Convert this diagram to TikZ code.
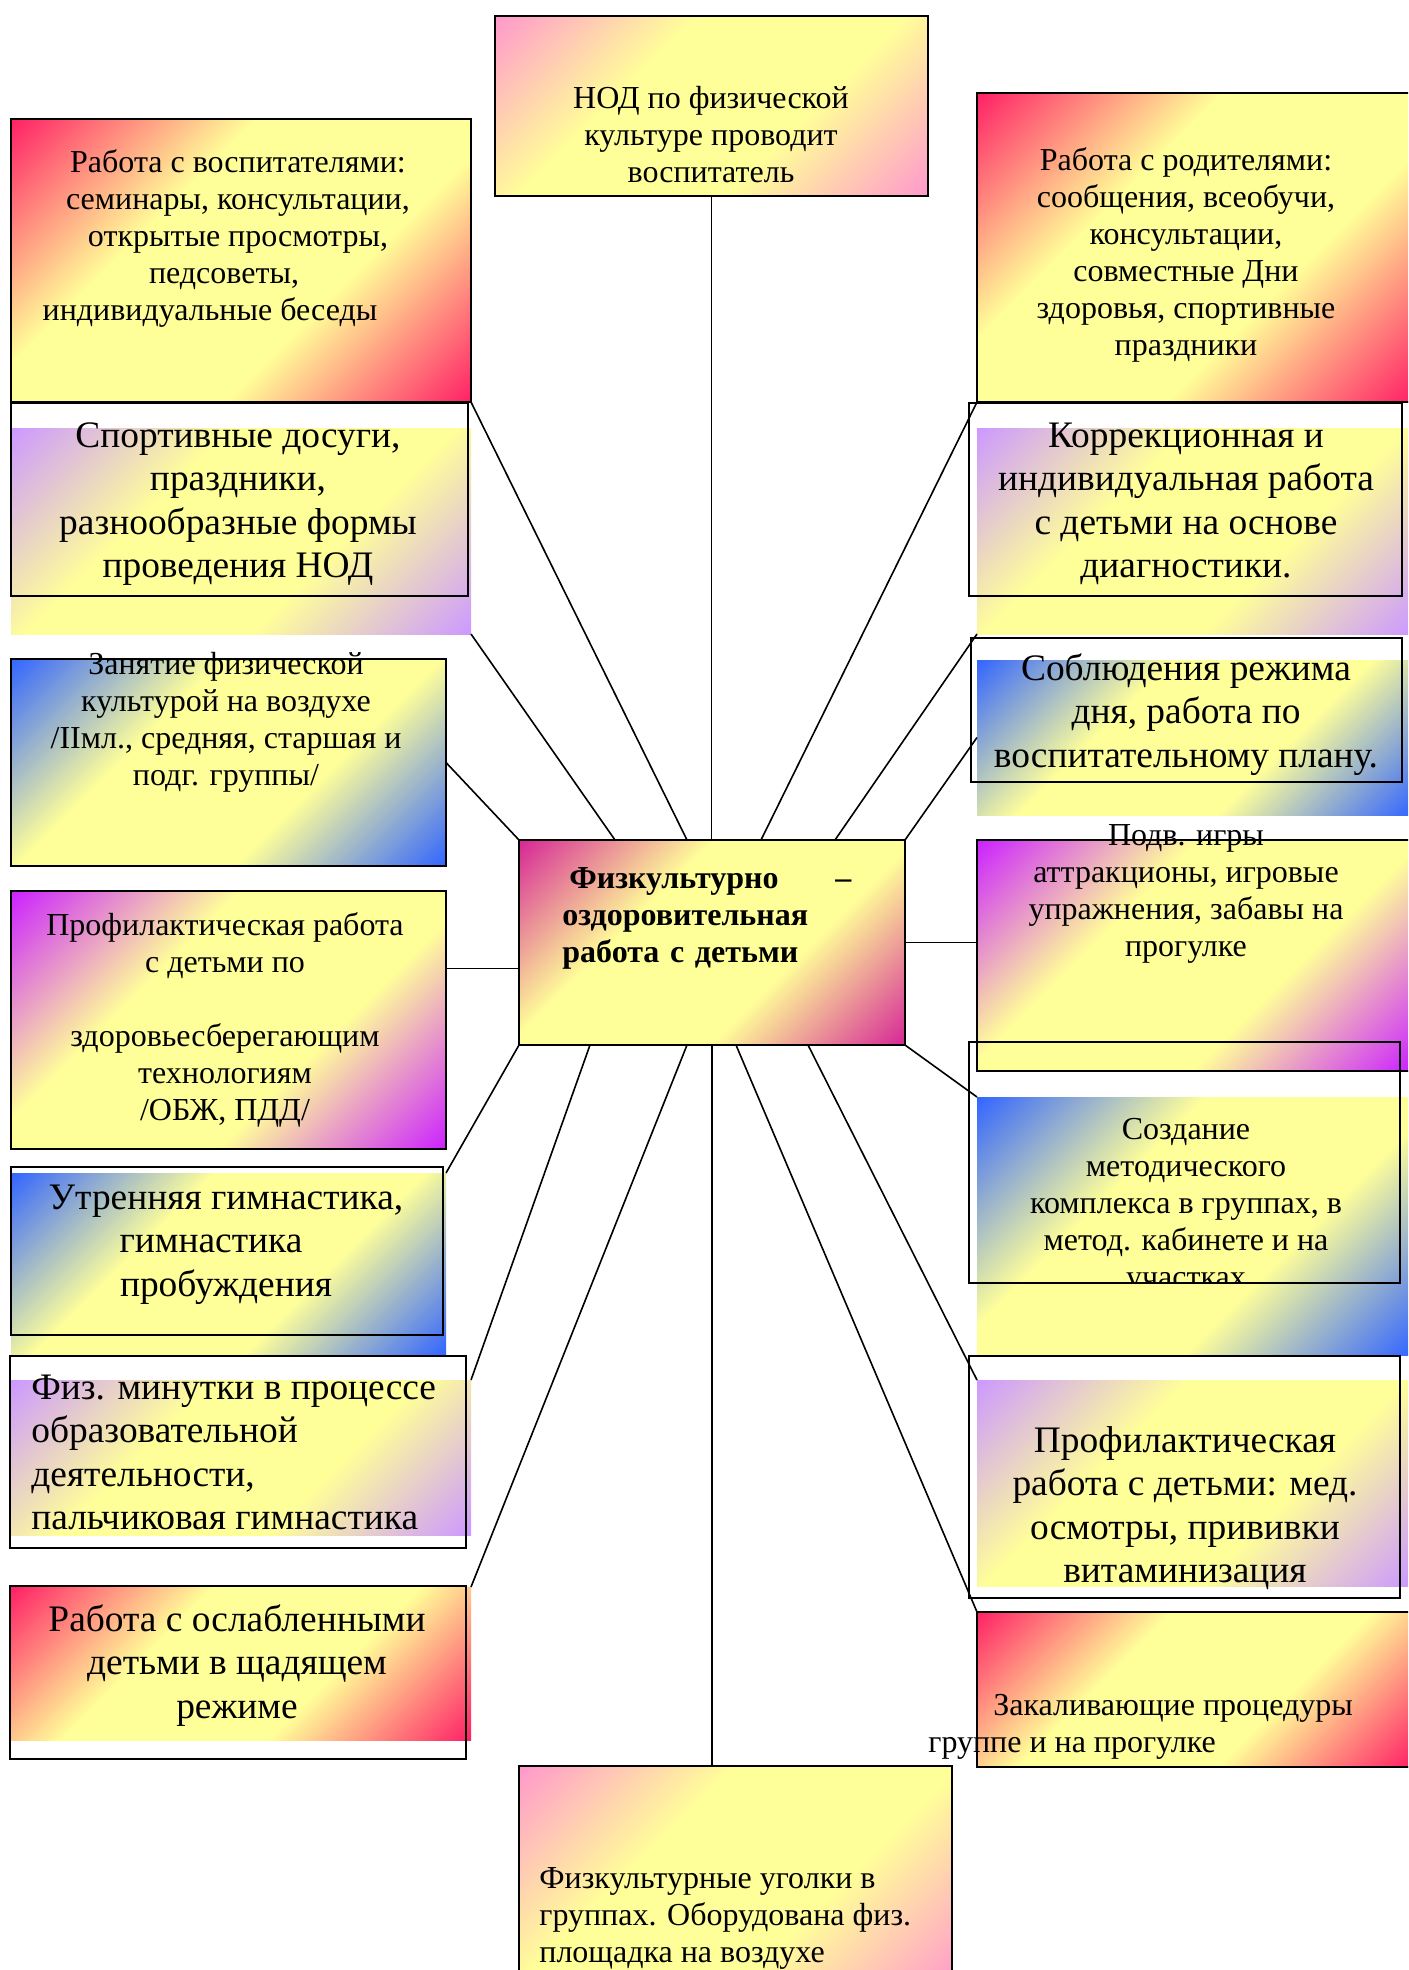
\documentclass[tikz,border=0pt]{standalone}
\usepackage{fontspec}
\setmainfont{Liberation Serif}
\usetikzlibrary{fit,calc}
\definecolor{cY}{HTML}{FFFF99}
\definecolor{cR}{HTML}{FF2266}
\definecolor{cP}{HTML}{FF99CC}
\definecolor{cL}{HTML}{CC99FF}
\definecolor{cB}{HTML}{3366FF}
\definecolor{cM}{HTML}{D62896}
\definecolor{cV}{HTML}{CC22FF}
\pgfdeclarehorizontalshading{shR}{100bp}{color(0bp)=(cR); color(14.64bp)=(cR); color(38bp)=(cY); color(62bp)=(cY); color(85.36bp)=(cR); color(100bp)=(cR)}
\pgfdeclarehorizontalshading{shP}{100bp}{color(0bp)=(cP); color(14.64bp)=(cP); color(38bp)=(cY); color(62bp)=(cY); color(85.36bp)=(cP); color(100bp)=(cP)}
\pgfdeclarehorizontalshading{shL}{100bp}{color(0bp)=(cL); color(14.64bp)=(cL); color(38bp)=(cY); color(62bp)=(cY); color(85.36bp)=(cL); color(100bp)=(cL)}
\pgfdeclarehorizontalshading{shB}{100bp}{color(0bp)=(cB); color(14.64bp)=(cB); color(38bp)=(cY); color(62bp)=(cY); color(85.36bp)=(cB); color(100bp)=(cB)}
\pgfdeclarehorizontalshading{shM}{100bp}{color(0bp)=(cM); color(14.64bp)=(cM); color(38bp)=(cY); color(62bp)=(cY); color(85.36bp)=(cM); color(100bp)=(cM)}
\pgfdeclarehorizontalshading{shV}{100bp}{color(0bp)=(cV); color(14.64bp)=(cV); color(38bp)=(cY); color(62bp)=(cY); color(85.36bp)=(cV); color(100bp)=(cV)}
\newcommand\tstrut{\rule{0pt}{1em}}
\tikzset{
  bx/.style={inner sep=0pt, outer sep=0pt, shade, shading=#1, shading angle=135},
  bxd/.style={bx=#1, draw=black, line width=1pt},
  fr/.style={draw=black, line width=1pt, inner sep=0pt, outer sep=0pt},
  ln/.style={draw=black, line width=0.8pt},
  sm/.style={font=\fontsize{16}{18.5}\selectfont, inner sep=0pt, align=center, anchor=north},
  lg/.style={font=\fontsize{18.7}{21.65}\selectfont, inner sep=0pt, align=center, anchor=north},
}
\begin{document}
\begin{tikzpicture}[x=0.5pt,y=-0.5pt]
\path[use as bounding box] (0,0) rectangle (1408,1970);
\clip (0,0) rectangle (1408,1970);

% boxes
\node[bxd=shP, fit={(495,16)(928,196)}] (nod) {};
\node[bxd=shR, fit={(11,119)(471,402)}] (vosp) {};
\node[bxd=shR, fit={(977,93)(1412,402)}] (rod) {};
\node[bx=shL, fit={(11,428)(471,634)}] (sport) {};
\node[fr, fit={(11,403)(468,596)}] (sportF) {};
\node[bx=shL, fit={(977,428)(1412,634)}] (korr) {};
\node[fr, fit={(969,403)(1402,596)}] (korrF) {};
\node[bxd=shB, fit={(11,659)(446,866)}] (zan) {};
\node[bx=shB, fit={(977,660)(1412,815)}] (sobl) {};
\node[fr, fit={(971,638)(1402,782)}] (soblF) {};
\node[bxd=shM, fit={(519,840)(905,1045)}] (hub) {};
\node[bxd=shV, fit={(977,840)(1412,1071)}] (podv) {};
\node[bxd=shV, fit={(11,891)(446,1149)}] (prof) {};
\node[bx=shB, fit={(977,1097)(1412,1355)}] (sozd) {};
\node[fr, fit={(969,1042)(1400,1283)}] (sozdF) {};
\node[bx=shB, fit={(11,1173)(446,1355)}] (utr) {};
\node[fr, fit={(11,1167)(443,1335)}] (utrF) {};
\node[bx=shL, fit={(11,1380)(471,1535)}] (fizm) {};
\node[fr, fit={(10,1356)(466,1548)}] (fizmF) {};
\node[bx=shR, fit={(11,1587)(471,1740)}] (osl) {};
\node[fr, fit={(10,1586)(466,1759)}] (oslF) {};
\node[bx=shL, fit={(977,1380)(1412,1586)}] (profm) {};
\node[fr, fit={(969,1356)(1400,1598)}] (profmF) {};
\node[bxd=shR, fit={(977,1612)(1412,1767)}] (zak) {};
\node[bxd=shP, fit={(519,1766)(952,1990)}] (ugol) {};

% connectors
\draw[ln] (nod.south) -- (nod.south |- hub.north);
\draw[ln] (vosp.south east) -- ($(hub.north west)+(168,0)$);
\draw[ln] (sport.south east) -- ($(hub.north west)+(96,0)$);
\draw[ln] (zan.east) -- (hub.north west);
\coordinate (hubL) at ($(hub.west)+(0,26)$);
\draw[ln] (hubL) -- (hubL -| prof.east);
\draw[ln] (rod.south west) -- ($(hub.north west)+(242,0)$);
\draw[ln] (korr.south west) -- ($(hub.north west)+(316,0)$);
\draw[ln] (sobl.west) -- (hub.north east);
\draw[ln] (hub.east) -- (hub.east -| podv.west);
\draw[ln] (hub.south east) -- (sozd.north west);
\draw[ln] ($(hub.south west)+(289,0)$) -- (profm.north west);
\draw[ln] ($(hub.south west)+(217,0)$) -- (zak.north west);
\draw[ln] (hub.south) -- (hub.south |- ugol.north);
\draw[ln] ($(hub.south west)+(168,0)$) -- (osl.north east);
\draw[ln] ($(hub.south west)+(71,0)$) -- (fizm.north east);
\draw[ln] (hub.south west) -- (utr.north east);

% texts
\node[sm] (nodT) at (711,76) {\tstrut НОД по физической\\культуре проводит\\воспитатель};
\node[sm] (vospT) at (238,140) {\tstrut Работа с воспитателями:\\семинары, консультации,\\открытые просмотры,\\педсоветы,\rule{14pt}{0pt}\\индивидуальные беседы\rule{28pt}{0pt}};
\node[sm] (rodT) at (1186,138) {\tstrut Работа с родителями:\\сообщения, всеобучи,\\консультации,\\совместные Дни\\здоровья, спортивные\\праздники};
\node[lg] (sportT) at (238,{447-37.4}) {\tstrut Спортивные досуги,\\праздники,\\разнообразные формы\\проведения НОД};
\node[lg] (korrT) at (1186,{447-37.4}) {\tstrut Коррекционная и\\индивидуальная работа\\с детьми на основе\\диагностики.};
\node[sm] (zanT) at (226,642) {\tstrut Занятие физической\\культурой на воздухе\\/IIмл., средняя, старшая и\\подг. группы/};
\node[lg] (soblT) at (1186,{680-37.4}) {\tstrut Соблюдения режима\\дня, работа по\\воспитательному плану.};
\node[font=\bfseries\fontsize{16}{18.5}\selectfont, inner sep=0pt, anchor=north west, text width=144.5pt, align=left] (hubT) at (562,856) {\tstrut\hspace*{3.5pt}Физкультурно\hfill–\\оздоровительная\\работа с детьми};
\node[sm] (podvT) at (1186,813) {\tstrut Подв. игры\\аттракционы, игровые\\упражнения, забавы на\\прогулке};
\node[sm] (profT) at (225,903) {\tstrut Профилактическая работа\\с детьми по\\[18.5pt]здоровьесберегающим\\технологиям\\/ОБЖ, ПДД/};
\begin{scope}
\clip (969,1042) rectangle (1400,1283);
\node[sm] (sozdT) at (1186,1107) {\tstrut Создание\\методического\\комплекса в группах, в\\метод. кабинете и на\\участках};
\end{scope}
\node[lg] (utrT) at (226,{1209-37.4}) {\tstrut Утренняя гимнастика,\\гимнастика\rule{15pt}{0pt}\\пробуждения};
\node[lg, anchor=north west, align=left] (fizmT) at (31,{1399-37.4}) {\tstrut Физ. минутки в процессе\\образовательной\\деятельности,\\пальчиковая гимнастика};
\node[lg] (oslT) at (237,{1631-37.4}) {\tstrut Работа с ослабленными\\детьми в щадящем\\режиме};
\node[lg] (profmT) at (1185,{1452-37.4}) {\tstrut Профилактическая\\работа с детьми: мед.\\осмотры, прививки\\витаминизация};
\node[sm, anchor=north west, align=left] (zakT) at (928,1683) {\tstrut\hspace*{32.5pt}Закаливающие процедуры\\группе и на прогулке};
\node[sm, anchor=north west, align=left] (ugolT) at (539,1856) {\tstrut Физкультурные уголки в\\группах. Оборудована физ.\\площадка на воздухе};
\end{tikzpicture}
\end{document}
